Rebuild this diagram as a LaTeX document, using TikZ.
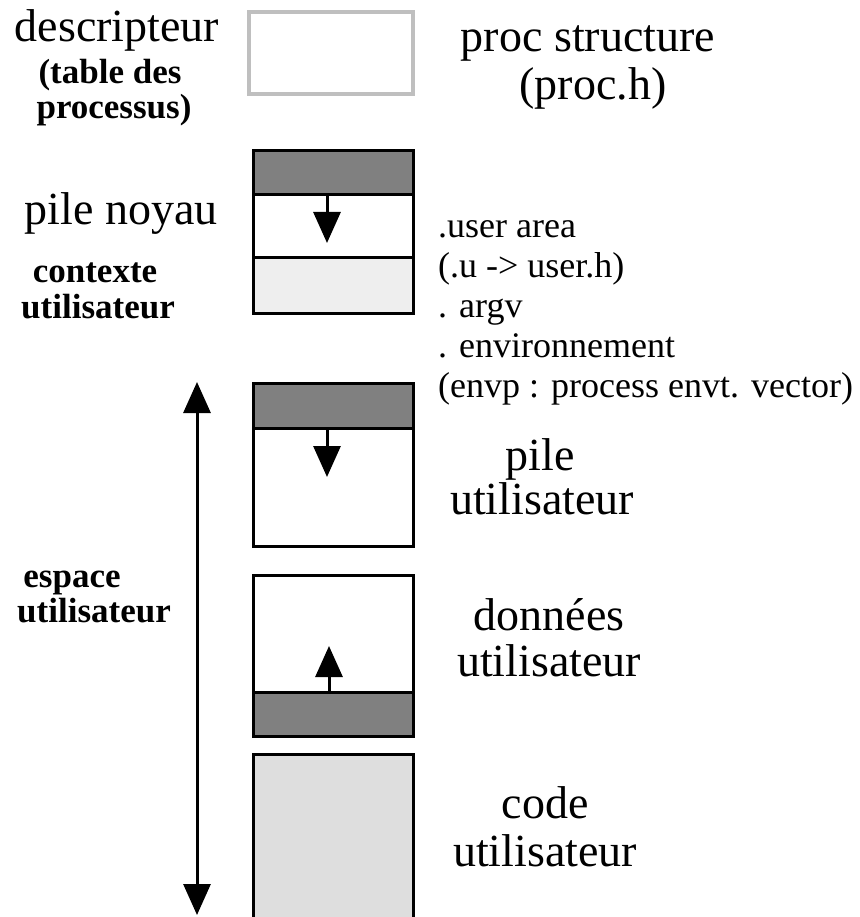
\documentclass[tikz,border=0pt]{standalone}
\usepackage{fontspec}
\setmainfont{Liberation Serif}
\usetikzlibrary{arrows.meta}
\definecolor{banddark}{HTML}{808080}
\definecolor{ctxgray}{HTML}{EEEEEE}
\definecolor{codegray}{HTML}{DEDEDE}
\definecolor{descgray}{HTML}{BFBFBF}
\begin{document}
\begin{tikzpicture}[x=1pt,y=-1pt,
  big/.style={inner sep=0pt,anchor=base,font=\fontsize{46}{48}\selectfont},
  bold/.style={inner sep=0pt,anchor=base,font=\fontsize{35}{33}\selectfont\bfseries},
  small/.style={inner sep=0pt,anchor=base west,font=\fontsize{36}{40}\selectfont},
  seg/.style={draw=black,line width=3pt},
  arr/.style={line width=3pt,-{Triangle[length=31pt,width=27pt]}},
  darr/.style={line width=3pt,{Triangle[length=31pt,width=27pt]}-{Triangle[length=31pt,width=27pt]}}]
\useasboundingbox (0,0) rectangle (859,917);
\draw[draw=descgray,line width=4pt] (249,12) rectangle (413,94);
\node[big] (desc) at (117,42) {descripteur};
\node[bold] (table) at (110,84) {(table des};
\node[bold] (tablep) at (114,119) {processus)};
\node[big] (proc) at (588,52) {proc structure};
\node[big] (proch) at (593,100) {(proc.h)};
\draw[seg,fill=banddark] (253,151) rectangle (413,195);
\draw[seg,fill=white] (253,195) rectangle (413,257);
\draw[seg,fill=ctxgray] (253,257) rectangle (413,313);
\coordinate (ktop) at (327,195);
\coordinate (kend) at (327,243);
\draw[arr] (ktop) -- (kend);
\node[big] (noyau) at (121,225) {pile noyau};
\node[bold] (ctx) at (95,282) {contexte};
\node[bold] (ctxu) at (98,318) {utilisateur};
\node[small] (ua) at (438,237) {.user area};
\node[small] (uh) at (438,277) {(.u -> user.h)};
\node[small] (argv) at (438,317) {. argv};
\node[small] (env) at (438,357) {. environnement};
\node[small] (envp) at (438,397) {(envp : process envt. vector)};
\draw[seg,fill=banddark] (253,383) rectangle (413,428);
\draw[seg,fill=white] (253,428) rectangle (413,546);
\coordinate (utop) at (327,428);
\coordinate (uend) at (327,477);
\draw[arr] (utop) -- (uend);
\node[big] (pile) at (540,470) {pile};
\node[big] (pileu) at (542,514) {utilisateur};
\draw[seg,fill=white] (253,575) rectangle (413,692);
\draw[seg,fill=banddark] (253,692) rectangle (413,736);
\coordinate (dbot) at (329,692);
\coordinate (dend) at (329,646);
\draw[arr] (dbot) -- (dend);
\node[big] (don) at (549,630) {données};
\node[big] (donu) at (549,676) {utilisateur};
\draw[seg,fill=codegray] (253,754) rectangle (413,930);
\node[big] (code) at (545,818) {code};
\node[big] (codeu) at (545,866) {utilisateur};
\coordinate (etop) at (197,382);
\coordinate (ebot) at (197,915);
\draw[darr] (etop) -- (ebot);
\node[bold] (esp) at (72,587) {espace};
\node[bold] (espu) at (94,622) {utilisateur};
\end{tikzpicture}
\end{document}
